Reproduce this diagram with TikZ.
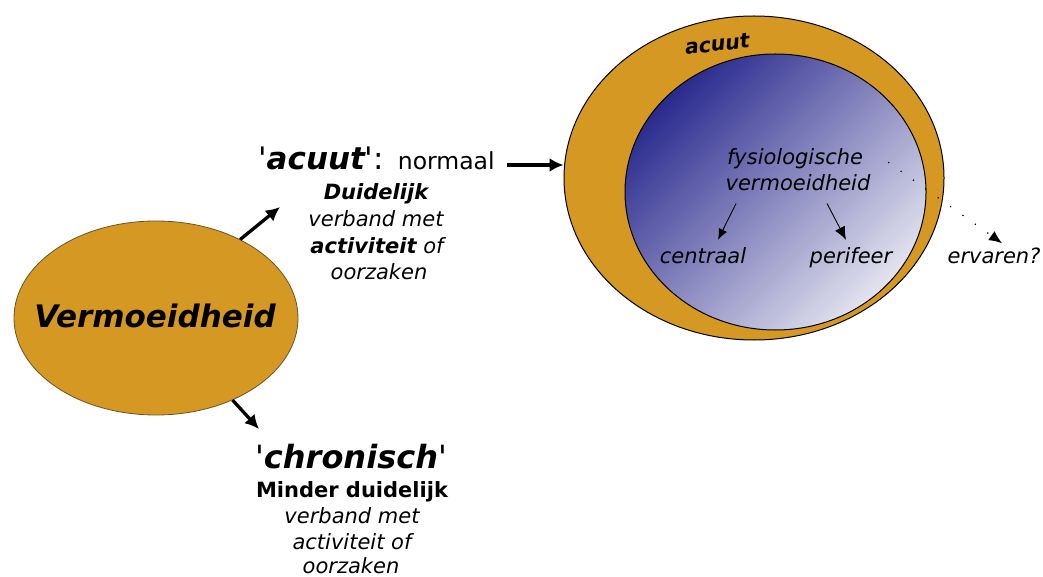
\documentclass[tikz,border=0pt]{standalone}
\usepackage{fontspec}
\setmainfont{DejaVu Sans}
\usetikzlibrary{shapes.geometric,arrows.meta}
\definecolor{ochre}{HTML}{D59822}
\definecolor{deepblue}{HTML}{2A2A8E}
\definecolor{paleblue}{HTML}{E4E4F0}
\definecolor{rimbrown}{HTML}{6A5428}
\newcommand{\fs}[1]{\fontsize{#1}{#1}\selectfont}
\newcommand{\sq}{\textquotesingle}
\begin{document}
\begin{tikzpicture}[x=1pt,y=-1pt,
  txt/.style={inner sep=0pt,anchor=base,font=\fs{21}},
  itxt/.style={txt,font=\fs{21}\itshape},
  bigarr/.style={line width=3.3pt,-{Latex[length=14pt,width=14pt]}},
  thinarr/.style={line width=0.9pt,-{Latex[length=11pt,width=9pt]}},
  blob/.style={ellipse,inner sep=0pt,fill=ochre}]
\useasboundingbox (0,0) rectangle (1043,577);

% left ellipse
\node[blob,draw=rimbrown,line width=0.8pt,minimum width=284pt,minimum height=194pt] (verm) at (156,318) {};
\node[txt,font=\fs{31}\bfseries\itshape] (vermtxt) at (155,327) {Vermoeidheid};

% big right ellipses
\node[blob,draw=black,line width=1pt,minimum width=380pt,minimum height=324pt] (outer) at (754,178) {};
\node[ellipse,inner sep=0pt,draw=black,line width=1pt,minimum width=301pt,minimum height=276pt,
      top color=deepblue,bottom color=paleblue,middle color=deepblue!50!paleblue,shading angle=45] (inner) at (775.5,192) {};
\node[txt,font=\fs{20.5}\bfseries\itshape,rotate=7] (acuutlbl) at (718,51) {acuut};

% acute text block
\node[txt,anchor=base west] (acline) at (258,170) {\fs{31}\sq{\bfseries\itshape acuut}\sq:\hspace{4pt}\fs{23.5} normaal};
\node[txt,font=\fs{21}\bfseries\itshape] (a1) at (376,200) {Duidelijk};
\node[itxt] (a2) at (376,227) {verband met};
\node[itxt] (a3) at (377,253) {{\bfseries activiteit} of};
\node[itxt] (a4) at (379,279) {oorzaken};

% chronic text block
\node[txt] (chline) at (351,468) {\fs{32}\sq{\bfseries\itshape chronisch}\sq};
\node[txt,font=\fs{21}\bfseries] (c1) at (352,497) {Minder duidelijk};
\node[itxt] (c2) at (352,523) {verband met};
\node[itxt] (c3) at (352,549) {activiteit of};
\node[itxt] (c4) at (351,573) {oorzaken};

% inner texts
\node[itxt] (fys) at (795,165) {fysiologische};
\node[itxt] (verm2) at (798,191) {vermoeidheid};
\node[itxt] (centraal) at (703,263) {centraal};
\node[itxt] (perifeer) at (851,263) {perifeer};
\node[itxt] (ervaren) at (994,263) {ervaren?};

% connectors
\coordinate (acutip) at (280,207);
\coordinate (chrtip) at (259,429);
\coordinate (nstart) at (507,165);
\draw[bigarr] (verm.43) -- (acutip);
\draw[bigarr] (verm.-47) -- (chrtip);
\draw[bigarr] (nstart) -- (outer.west |- nstart);

\draw[thinarr] ([xshift=-62pt,yshift=-12pt]verm2.south) -- ([xshift=15pt,yshift=7pt]centraal.north);
\draw[thinarr,-{Latex[length=13pt,width=11pt]}] ([xshift=29pt,yshift=-12pt]verm2.south) -- ([xshift=-5pt,yshift=7pt]perifeer.north);
\draw[line width=1.2pt,dash pattern=on 1.2pt off 14pt,-{Latex[length=13pt,width=11pt]}]
  ([xshift=25pt,yshift=-3pt]fys.east) -- ([xshift=8pt,yshift=4pt]ervaren.north);
\end{tikzpicture}
\end{document}
